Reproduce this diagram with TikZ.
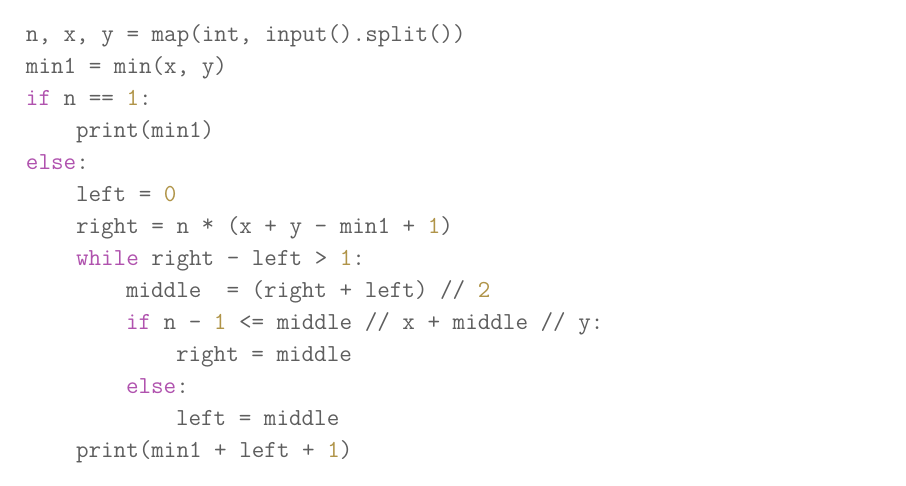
\documentclass[tikz,border=0pt]{standalone}
\usepackage{fontspec}
\definecolor{txt}{HTML}{5E5E5E}
\definecolor{kw}{HTML}{B052AE}
\definecolor{num}{HTML}{B09448}
\newcommand{\kw}[1]{\textcolor{kw}{#1}}
\newcommand{\nm}[1]{\textcolor{num}{#1}}
\begin{document}
\begin{tikzpicture}[x=1pt,y=1pt,
  codeline/.style={anchor=base west,inner sep=0pt,outer sep=0pt,text=txt,
    font=\ttfamily\fontsize{24.4}{28}\selectfont}]
\useasboundingbox[fill=white] (0,0) rectangle (906,-486);
\node[codeline] (l1) at (26,-42) {n, x, y = map(int, input().split())};
\node[codeline] (l2) at (26,-74) {min1 = min(x, y)};
\node[codeline] (l3) at (26,-106) {\kw{if} n == \nm{1}:};
\node[codeline] (l4) at (76,-138) {print(min1)};
\node[codeline] (l5) at (26,-170) {\kw{else}:};
\node[codeline] (l6) at (76,-202) {left = \nm{0}};
\node[codeline] (l7) at (76,-234) {right = n \raisebox{0.25ex}{*} (x + y - min1 + \nm{1})};
\node[codeline] (l8) at (76,-266) {\kw{while} right - left > \nm{1}:};
\node[codeline] (l9) at (126,-298) {middle\ \ = (right + left) // \nm{2}};
\node[codeline] (l10) at (126,-330) {\kw{if} n - \nm{1} <= middle // x + middle // y:};
\node[codeline] (l11) at (176,-362) {right = middle};
\node[codeline] (l12) at (126,-394) {\kw{else}:};
\node[codeline] (l13) at (176,-426) {left = middle};
\node[codeline] (l14) at (76,-458) {print(min1 + left + \nm{1})};
\end{tikzpicture}
\end{document}
